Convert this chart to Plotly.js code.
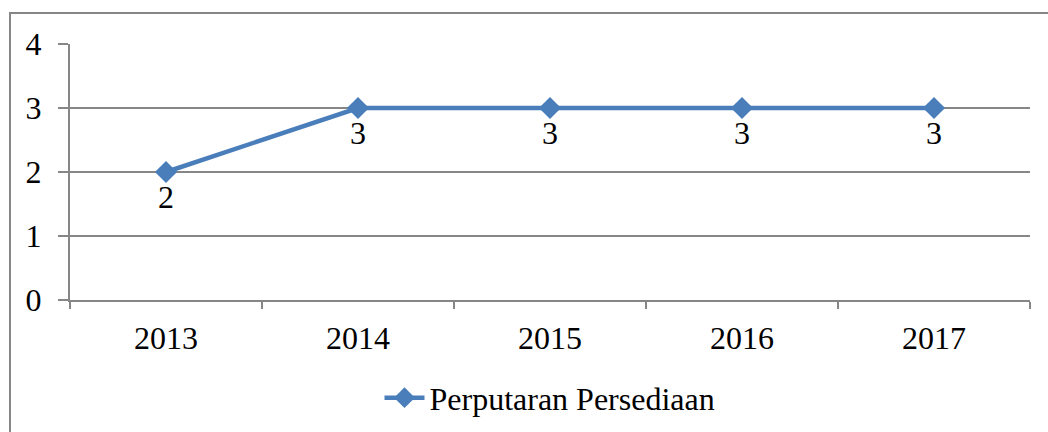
<!DOCTYPE html>
<html>
<head>
<meta charset="utf-8">
<script src="https://cdn.plot.ly/plotly-3.0.1.min.js"></script>
<style>html,body{margin:0;padding:0;background:#fff;}#chart{width:1048px;height:432px;}</style>
</head>
<body>
<div id="chart"></div>
<script>
var years = ['2013', '2014', '2015', '2016', '2017'];
var perputaranPersediaan = [2, 3, 3, 3, 3];
var seriesName = 'Perputaran Persediaan';
var yTicks = [0, 1, 2, 3, 4];

var font = 'Liberation Serif, Times New Roman, serif';
var grid = '#868686';

var trace = {
  x: years,
  y: perputaranPersediaan,
  name: seriesName,
  type: 'scatter',
  mode: 'lines+markers+text',
  text: perputaranPersediaan.map(String),
  textposition: 'bottom center',
  textfont: {family: font, size: 32, color: '#000'},
  line: {color: '#4A7EBB', width: 4.5},
  marker: {symbol: 'diamond', size: 17, color: '#4A7EBB'},
  cliponaxis: false
};

var layout = {
  width: 1048,
  height: 432,
  margin: {l: 70, r: 18, t: 44, b: 132, autoexpand: false},
  paper_bgcolor: '#fff',
  plot_bgcolor: '#fff',
  font: {family: font, size: 32, color: '#000'},
  showlegend: true,
  legend: {
    orientation: 'h', x: 0.5, xanchor: 'center', y: -0.275, yanchor: 'top',
    font: {family: font, size: 32, color: '#000'},
    itemwidth: 40
  },
  xaxis: {
    type: 'category',
    range: [-0.5, 4.5],
    automargin: false,
    showgrid: false,
    showline: true, linecolor: grid, linewidth: 2,
    ticks: 'outside', tickson: 'boundaries', ticklen: 7, tickcolor: grid, tickwidth: 2,
    tickfont: {family: font, size: 32, color: '#000'},
    ticklabelstandoff: 9,
    zeroline: false,
    fixedrange: true
  },
  yaxis: {
    range: [0, 4],
    automargin: false,
    tickvals: yTicks,
    showgrid: true, gridcolor: grid, gridwidth: 2,
    showline: true, linecolor: grid, linewidth: 2,
    ticks: 'outside', ticklen: 10, tickcolor: grid, tickwidth: 2,
    tickfont: {family: font, size: 32, color: '#000'},
    ticklabelstandoff: 10,
    zeroline: false,
    fixedrange: true
  },
  shapes: [{
    type: 'rect', xref: 'paper', yref: 'paper',
    x0: (10 - 70) / 960, x1: 1.05,
    y0: -0.6, y1: (300 - 13) / 256,
    line: {color: grid, width: 2}
  }]
};

Plotly.newPlot('chart', [trace], layout, {displayModeBar: false, staticPlot: true});
</script>
</body>
</html>
